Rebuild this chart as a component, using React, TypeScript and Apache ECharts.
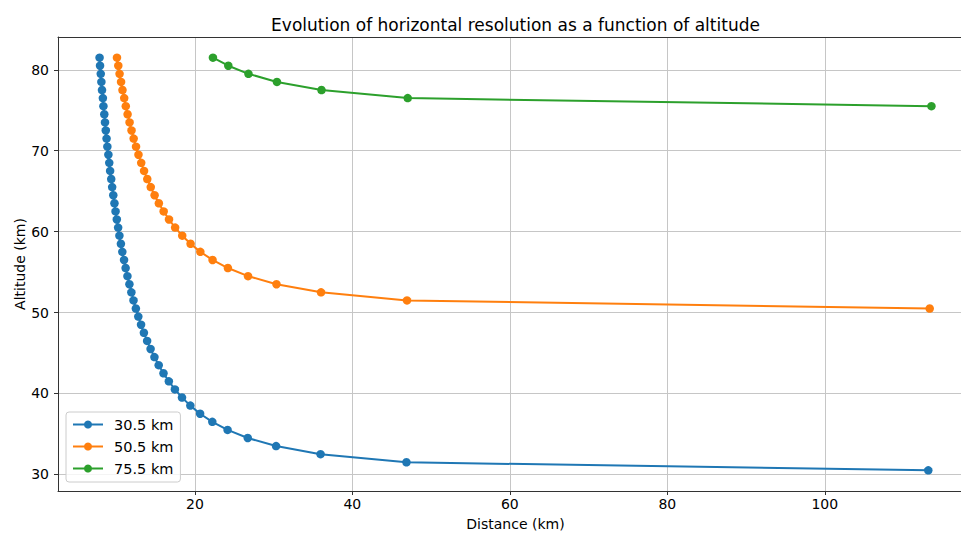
import React, { useEffect, useRef } from 'react';
import * as echarts from 'echarts';

const TITLE = 'Evolution of horizontal resolution as a function of altitude';
const X_NAME = 'Distance (km)';
const Y_NAME = 'Altitude (km)';
const X_TICKS = [20, 40, 60, 80, 100];
const Y_TICKS = [30, 40, 50, 60, 70, 80];
const X_RANGE = [2.61, 118.83];
const Y_RANGE = [27.95, 84.05];
const SERIES_NAMES = ['30.5 km', '50.5 km', '75.5 km'];
const COLORS = ['#1f77b4', '#ff7f0e', '#2ca02c'];

const ALT_30 = [
  30.5, 31.5, 32.5, 33.5, 34.5, 35.5, 36.5, 37.5, 38.5, 39.5, 40.5, 41.5, 42.5,
  43.5, 44.5, 45.5, 46.5, 47.5, 48.5, 49.5, 50.5, 51.5, 52.5, 53.5, 54.5, 55.5,
  56.5, 57.5, 58.5, 59.5, 60.5, 61.5, 62.5, 63.5, 64.5, 65.5, 66.5, 67.5, 68.5,
  69.5, 70.5, 71.5, 72.5, 73.5, 74.5, 75.5, 76.5, 77.5, 78.5, 79.5, 80.5, 81.5,
];
const DIST_30 = [
  113.15, 46.87, 35.96, 30.31, 26.71, 24.15, 22.21, 20.66, 19.42, 18.36, 17.46,
  16.69, 16.01, 15.4, 14.86, 14.37, 13.93, 13.52, 13.16, 12.81, 12.5, 12.2,
  11.93, 11.68, 11.43, 11.2, 11.0, 10.78, 10.6, 10.41, 10.25, 10.08, 9.92, 9.78,
  9.63, 9.49, 9.37, 9.23, 9.12, 9.01, 8.88, 8.78, 8.68, 8.58, 8.49, 8.38, 8.31,
  8.2, 8.12, 8.04, 7.95, 7.89,
];

const ALT_50 = [
  50.5, 51.5, 52.5, 53.5, 54.5, 55.5, 56.5, 57.5, 58.5, 59.5, 60.5, 61.5, 62.5,
  63.5, 64.5, 65.5, 66.5, 67.5, 68.5, 69.5, 70.5, 71.5, 72.5, 73.5, 74.5, 75.5,
  76.5, 77.5, 78.5, 79.5, 80.5, 81.5,
];
const DIST_50 = [
  113.33, 46.94, 36.02, 30.36, 26.75, 24.19, 22.24, 20.69, 19.45, 18.39, 17.49,
  16.71, 16.03, 15.42, 14.88, 14.39, 13.95, 13.54, 13.18, 12.83, 12.52, 12.22,
  11.95, 11.7, 11.45, 11.22, 11.02, 10.8, 10.62, 10.43, 10.27, 10.1,
];

const ALT_75 = [75.5, 76.5, 77.5, 78.5, 79.5, 80.5, 81.5];
const DIST_75 = [113.55, 47.03, 36.08, 30.42, 26.8, 24.24, 22.29];

const SERIES_X = [DIST_30, DIST_50, DIST_75];
const SERIES_Y = [ALT_30, ALT_50, ALT_75];

const FONT = 'DejaVu Sans';

export default function App() {
  const ref = useRef<HTMLDivElement>(null);

  useEffect(() => {
    if (!ref.current) return;
    const chart = echarts.init(ref.current, undefined, { renderer: 'svg' });
    const axisColor = '#333333';
    const gridColor = '#c6c6c6';

    const series = SERIES_NAMES.map((name, i) => ({
      name,
      type: 'line',
      xAxisIndex: 0,
      yAxisIndex: 0,
      data: SERIES_X[i].map((x, j) => [x, SERIES_Y[i][j]]),
      symbol: 'circle',
      symbolSize: 8.5,
      showSymbol: true,
      color: COLORS[i],
      lineStyle: { color: COLORS[i], width: 2 },
      itemStyle: { color: COLORS[i], borderWidth: 0 },
      emphasis: { disabled: true },
      z: 2 + i,
    }));

    chart.setOption({
      animation: false,
      backgroundColor: '#ffffff',
      textStyle: { fontFamily: FONT },
      title: {
        text: TITLE,
        left: 515.5,
        top: 16,
        padding: 0,
        textAlign: 'center',
        textStyle: { fontFamily: FONT, fontSize: 17, fontWeight: 'normal', color: '#000' },
      },
      grid: {
        left: 58,
        top: 37,
        bottom: 43,
        right: 7,
        show: false,
        containLabel: false,
        outerBoundsMode: 'none',
      },
      legend: {
        orient: 'vertical',
        left: 66,
        top: 412,
        padding: [5, 7, 6, 6],
        itemWidth: 30,
        itemHeight: 10,
        itemGap: 7,
        backgroundColor: 'rgba(255,255,255,0.8)',
        borderColor: '#cccccc',
        borderWidth: 1,
        borderRadius: 3,
        textStyle: { fontFamily: FONT, fontSize: 14.5, color: '#000', padding: [0, 0, 0, 6] },
        data: SERIES_NAMES,
        selectedMode: false,
      },
      xAxis: [
        {
          type: 'value',
          position: 'bottom',
          min: X_RANGE[0],
          max: X_RANGE[1],
          name: X_NAME,
          nameLocation: 'middle',
          nameGap: 26,
          nameMoveOverlap: false,
          nameTextStyle: { fontFamily: FONT, fontSize: 14, color: '#000', verticalAlign: 'top' },
          axisLine: { show: true, onZero: false, lineStyle: { color: axisColor, width: 1 } },
          axisTick: { show: true, inside: false, length: 4, lineStyle: { color: axisColor }, customValues: X_TICKS },
          axisLabel: {
            fontFamily: FONT,
            fontSize: 14,
            color: '#000',
            margin: 6,
            customValues: X_TICKS,
          },
          splitLine: { show: true, lineStyle: { color: gridColor, width: 1 } },
        },
        {
          type: 'value',
          position: 'top',
          min: X_RANGE[0],
          max: X_RANGE[1],
          axisLine: { show: true, onZero: false, lineStyle: { color: axisColor, width: 1 } },
          axisTick: { show: false },
          axisLabel: { show: false },
          splitLine: { show: false },
        },
      ],
      yAxis: {
        type: 'value',
        min: Y_RANGE[0],
        max: Y_RANGE[1],
        name: Y_NAME,
        nameLocation: 'middle',
        nameGap: 31,
        nameMoveOverlap: false,
        nameTextStyle: { fontFamily: FONT, fontSize: 14, color: '#000' },
        axisLine: { show: true, onZero: false, lineStyle: { color: axisColor, width: 1 } },
        axisTick: { show: true, inside: false, length: 4, lineStyle: { color: axisColor }, customValues: Y_TICKS },
        axisLabel: {
          fontFamily: FONT,
          fontSize: 14,
          color: '#000',
          margin: 9,
          customValues: Y_TICKS,
        },
        splitLine: { show: true, lineStyle: { color: gridColor, width: 1 } },
      },
      series,
    });

    return () => {
      chart.dispose();
    };
  }, []);

  return (
    <div style={{ position: 'absolute', left: 0, top: 0, width: 961, height: 534, overflow: 'hidden', background: '#fff' }}>
      <div ref={ref} style={{ width: 980, height: 534 }} />
    </div>
  );
}
